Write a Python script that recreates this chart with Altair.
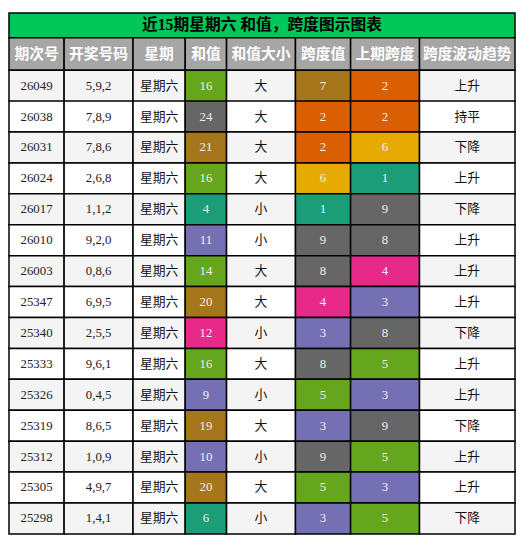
import altair as alt
import pandas as pd

# ── Table content ──────────────────────────────────────────────────
TITLE = "近15期星期六 和值，跨度图示图表"
HEADERS = ["期次号", "开奖号码", "星期", "和值", "和值大小", "跨度值", "上期跨度", "跨度波动趋势"]

issues = ["26049", "26038", "26031", "26024", "26017", "26010", "26003", "25347",
          "25340", "25333", "25326", "25319", "25312", "25305", "25298"]
draws = ["5,9,2", "7,8,9", "7,8,6", "2,6,8", "1,1,2", "9,2,0", "0,8,6", "6,9,5",
         "2,5,5", "9,6,1", "0,4,5", "8,6,5", "1,0,9", "4,9,7", "1,4,1"]
weekdays = ["星期六"] * 15
sums = [16, 24, 21, 16, 4, 11, 14, 20, 12, 16, 9, 19, 10, 20, 6]
sizes = ["大", "大", "大", "大", "小", "小", "大", "大", "小", "大", "小", "大", "小", "大", "小"]
spans = [7, 2, 2, 6, 1, 9, 8, 4, 3, 8, 5, 3, 9, 5, 3]
prev_spans = [2, 2, 6, 1, 9, 8, 4, 3, 8, 5, 3, 9, 5, 3, 5]
trends = ["上升", "持平", "下降", "上升", "下降", "上升", "上升", "上升",
          "下降", "上升", "上升", "下降", "上升", "上升", "下降"]

# ── Look ───────────────────────────────────────────────────────────
DARK2 = ["#1b9e77", "#d95f02", "#7570b3", "#e7298a",
         "#66a61e", "#e6ab02", "#a6761d", "#666666"]
SUM_BREAKS = [7, 9, 12, 14, 18, 19, 23]   # 和值 -> palette slot
TITLE_BG = "#00c75a"
HEAD_BG = "#a6a6a6"
ROW_BG = ["#f4f4f4", "#ffffff"]
FONT = "Liberation Serif, Noto Sans CJK SC"

COL_W = [56, 70, 53, 42, 70, 56, 70, 97]
TITLE_H, HEAD_H, ROW_H = 25, 33, 31.4
W = sum(COL_W)
H = TITLE_H + HEAD_H + ROW_H * len(issues)


def sum_colour(v):
    return DARK2[sum(v >= b for b in SUM_BREAKS)]


def span_colour(v):
    return DARK2[min(v, 8) - 1]


edges = [0]
for w in COL_W:
    edges.append(edges[-1] + w)

cells = [dict(x0=0, x1=W, y0=0, y1=TITLE_H, fill=TITLE_BG,
              label=TITLE, tcolor="#000000", kind="title")]
for c, name in enumerate(HEADERS):
    cells.append(dict(x0=edges[c], x1=edges[c + 1], y0=TITLE_H, y1=TITLE_H + HEAD_H,
                      fill=HEAD_BG, label=name, tcolor="#ffffff", kind="head"))

for r in range(len(issues)):
    y0 = TITLE_H + HEAD_H + r * ROW_H
    bg = ROW_BG[r % 2]
    row = [
        (str(issues[r]), bg, "#222222"),
        (draws[r], bg, "#222222"),
        (weekdays[r], bg, "#111111"),
        (str(sums[r]), sum_colour(sums[r]), "#eeeeee"),
        (sizes[r], bg, "#111111"),
        (str(spans[r]), span_colour(spans[r]), "#eeeeee"),
        (str(prev_spans[r]), span_colour(prev_spans[r]), "#eeeeee"),
        (trends[r], bg, "#111111"),
    ]
    for c, (label, fill, tcolor) in enumerate(row):
        cells.append(dict(x0=edges[c], x1=edges[c + 1], y0=y0, y1=y0 + ROW_H,
                          fill=fill, label=label, tcolor=tcolor, kind="body"))

df = pd.DataFrame(cells)
df["xc"] = (df.x0 + df.x1) / 2
df["yc"] = (df.y0 + df.y1) / 2

xs = alt.Scale(domain=[0, W], nice=False, zero=False)
ys = alt.Scale(domain=[0, H], nice=False, zero=False, reverse=True)

base = alt.Chart(df)

rects = base.mark_rect(stroke="#000000", strokeWidth=1.5).encode(
    x=alt.X("x0:Q", scale=xs, axis=None),
    x2="x1:Q",
    y=alt.Y("y0:Q", scale=ys, axis=None),
    y2="y1:Q",
    fill=alt.Fill("fill:N", scale=None),
)


def text_layer(kind, **style):
    return (
        base.transform_filter(alt.datum.kind == kind)
        .mark_text(font=FONT, baseline="middle", align="center", **style)
        .encode(
            x=alt.X("xc:Q", scale=xs, axis=None),
            y=alt.Y("yc:Q", scale=ys, axis=None),
            text="label:N",
            color=alt.Color("tcolor:N", scale=None),
        )
    )


chart = (
    alt.layer(
        rects,
        text_layer("title", fontSize=16, fontWeight="bold"),
        text_layer("head", fontSize=15, fontWeight="bold"),
        text_layer("body", fontSize=13),
    )
    .properties(width=W, height=H, padding=1, autosize="none")
    .configure_view(stroke=None)
)

chart.save("out.html", embed_options={"renderer": "svg", "actions": False})
